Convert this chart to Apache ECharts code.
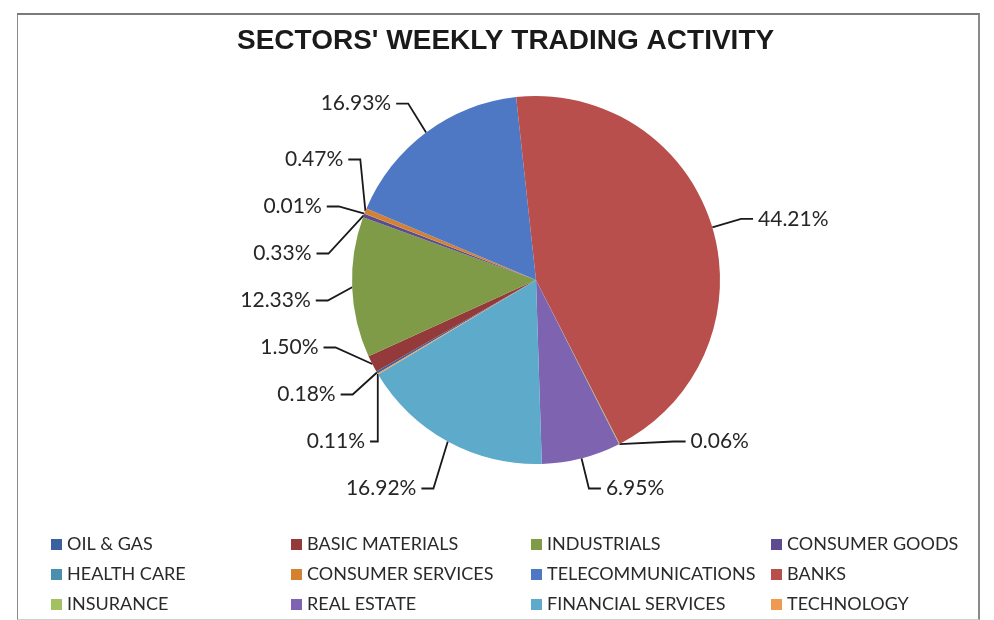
<!DOCTYPE html>
<html>
<head>
<meta charset="utf-8">
<script src="https://cdn.jsdelivr.net/npm/echarts@6/dist/echarts.min.js"></script>
<style>
  html, body { margin: 0; padding: 0; background: #fff; }
  #frame { position: absolute; left: 17px; top: 13px; width: 960px; height: 604px;
           border-top: 2px solid #7a7a7a; border-left: 1px solid #8a8a8a; border-right: 2px solid #8a8a8a;
           border-bottom: 1px solid #cfcfcf; }
  #chart { position: absolute; left: 0; top: 0; width: 994px; height: 620px; }
</style>
</head>
<body>
<div id="frame"></div>
<div id="chart"></div>
<script>
const titleText = "SECTORS' WEEKLY TRADING ACTIVITY";
const sectors = ["OIL & GAS", "BASIC MATERIALS", "INDUSTRIALS", "CONSUMER GOODS",
  "HEALTH CARE", "CONSUMER SERVICES", "TELECOMMUNICATIONS", "BANKS",
  "INSURANCE", "REAL ESTATE", "FINANCIAL SERVICES", "TECHNOLOGY"];
const shares = [0.18, 1.50, 12.33, 0.33, 0.01, 0.47, 16.93, 44.21, 0.06, 6.95, 16.92, 0.11];
const colors = ["#3C5FA0", "#953A3A", "#7F9B48", "#5E4A8E", "#4A8FAE", "#D58132",
  "#4F78C4", "#B84F4D", "#A3C161", "#7D63B0", "#5EAACB", "#EE9A51"];

const chart = echarts.init(document.getElementById('chart'), null, { renderer: 'canvas' });
const data = sectors.map((n, i) => ({ name: n, value: shares[i], itemStyle: { color: colors[i] } }));

chart.setOption({
  animation: false,
  title: {
    text: titleText,
    left: 237,
    top: 27,
    padding: 0,
    textStyle: { fontFamily: 'Liberation Sans, Arial', fontWeight: 'bold', fontSize: 28, color: '#1a1a1a' }
  },
  legend: {
    data: sectors,
    left: 51,
    top: 532,
    width: 960,
    padding: 0,
    itemWidth: 11,
    itemHeight: 11,
    itemGap: 5,
    icon: 'rect',
    textStyle: { fontFamily: 'Lato', fontSize: 18, color: '#2a2a2a', width: 219, lineHeight: 25 }
  },
  series: [{
    type: 'pie',
    left: 0,
    top: 0,
    width: 994,
    height: 512,
    center: [536, 280],
    radius: 184,
    startAngle: 210.5,
    clockwise: true,
    data: data,
    avoidLabelOverlap: true,
    itemStyle: { borderWidth: 0 },
    label: {
      show: true,
      position: 'outside',
      formatter: p => p.value.toFixed(2) + '%',
      fontFamily: 'Lato',
      fontSize: 21,
      lineHeight: 45,
      color: '#262626'
    },
    labelLine: {
      show: true,
      length: 30,
      length2: 12,
      lineStyle: { color: '#1a1a1a', width: 1.8 }
    },
    emphasis: { disabled: true }
  }]
});
</script>
</body>
</html>
